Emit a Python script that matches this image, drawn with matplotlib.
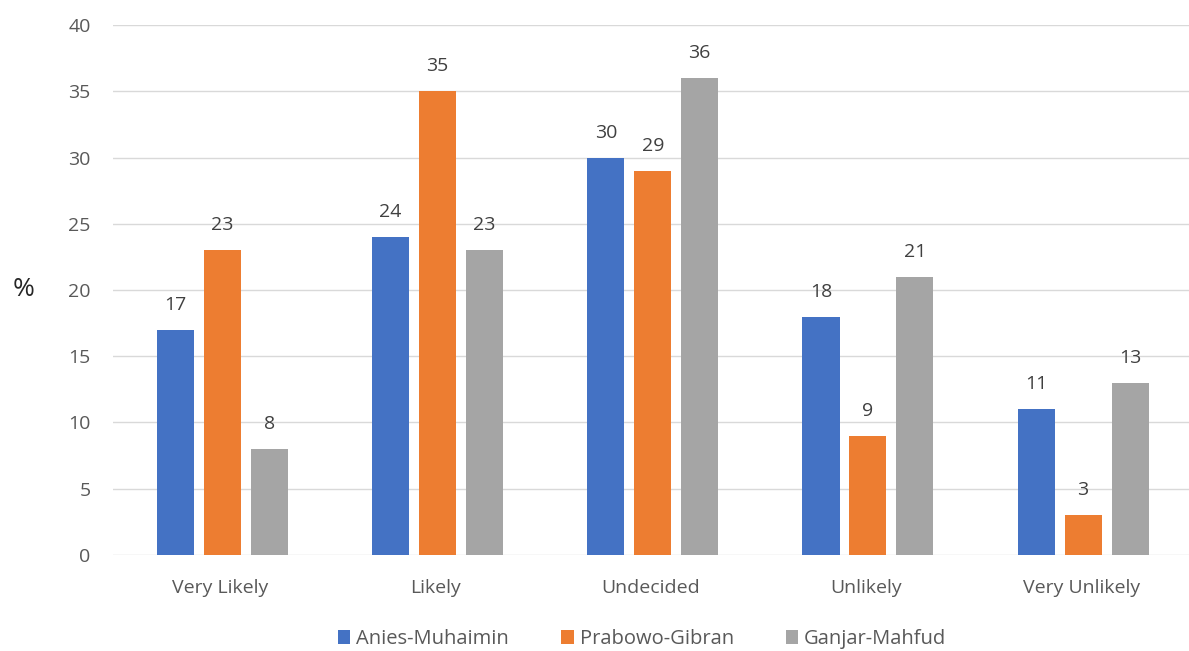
import matplotlib
matplotlib.use('Agg')
from matplotlib import pyplot as plt
import numpy as np

categories = ['Very Likely', 'Likely', 'Undecided', 'Unlikely', 'Very Unlikely']
anies = [17, 24, 30, 18, 11]
prabowo = [23, 35, 29, 9, 3]
ganjar = [8, 23, 36, 21, 13]
series_names = ['Anies-Muhaimin', 'Prabowo-Gibran', 'Ganjar-Mahfud']
colors = ['#4472C4', '#ED7D31', '#A5A5A5']

plt.rcParams['font.family'] = ['Open Sans', 'DejaVu Sans']

fig = plt.figure(figsize=(11.89, 6.51), dpi=100)
ax = fig.add_axes([0.095, 0.1475, 0.905, 0.814])

x = np.arange(len(categories))
width = 0.172
offset = 0.218
text_color = '#595959'

for i, (vals, name, c) in enumerate(zip([anies, prabowo, ganjar], series_names, colors)):
    bars = ax.bar(x + (i - 1) * offset + 0.008, vals, width, color=c, label=name, zorder=3)
    for b, v in zip(bars, vals):
        ax.text(b.get_x() + b.get_width() / 2, v + 1.2, str(v), ha='center', va='bottom',
                fontsize=14, color='#404040')

ax.set_xlim(-0.5, 4.5)
ax.set_ylim(0, 40)
ax.set_yticks(range(0, 41, 5))
ax.set_xticks(x)
ax.set_xticklabels(categories)
ax.grid(axis='y', color='#D9D9D9', linewidth=1, zorder=0)
for s in ax.spines.values():
    s.set_visible(False)
ax.tick_params(axis='both', length=0, labelsize=14, colors=text_color)
ax.tick_params(axis='y', pad=16)
ax.tick_params(axis='x', pad=17)

fig.text(0.02, 0.555, '%', fontsize=19, color='#262626', ha='center', va='center')

ax.legend(loc='upper center', bbox_to_anchor=(0.492, -0.105), ncol=3, frameon=False,
          fontsize=14.5, handlelength=0.6, handleheight=0.7, handletextpad=0.3,
          columnspacing=2.6, labelcolor=text_color)

plt.savefig('out.png', dpi=100)
